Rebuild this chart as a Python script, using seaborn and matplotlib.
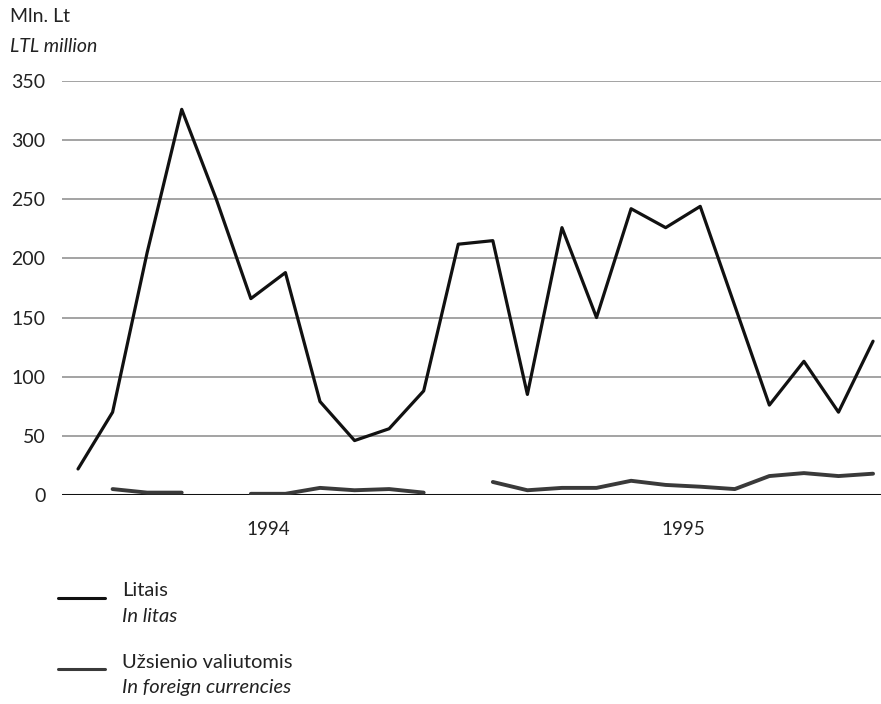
import numpy as np
import pandas as pd
import matplotlib
matplotlib.use("Agg")
import matplotlib.pyplot as plt
import seaborn as sns
from matplotlib.lines import Line2D

months = list(range(24))
years = ["1994", "1995"]
litas = [22, 70, 205, 326, 250, 166, 188, 79, 46, 56, 88, 212,
         215, 85, 226, 150, 242, 226, 244, 160, 76, 113, 70, 130]
foreign = [np.nan, 5, 2, 2, np.nan, 1, 1, 6, 4, 5, 2, np.nan,
           11, 4, 6, 6, 12, 8.5, 7, 5, 16, 18.5, 16, 18]
yticks = [0, 50, 100, 150, 200, 250, 300, 350]

df = pd.DataFrame({"month": months, "litas": litas, "foreign": foreign})
# contiguous segments so that missing months show as gaps
df["seg"] = df["foreign"].isna().cumsum()

sns.set_theme(style="white")
plt.rcParams['font.family'] = ['Lato', 'DejaVu Sans']

fig = plt.figure(figsize=(8.81, 7.04), dpi=100)
ax = fig.add_axes([0.0704, 0.2969, 0.9296, 0.5881])

for y in yticks[1:]:
    ax.axhline(y, color="#8a8a8a", lw=1.1, zorder=0)
ax.axhline(0, color="#111111", lw=2.2, zorder=1)

fd = df.dropna(subset=["foreign"])
for _, g in fd.groupby("seg"):
    sns.lineplot(data=g, x="month", y="foreign", ax=ax, color="#3a3a3a", lw=2.8, zorder=2)
sns.lineplot(data=df, x="month", y="litas", ax=ax, color="#111111", lw=2.3, zorder=3)

ax.set_xlim(-0.463, 23.23)
ax.set_ylim(0, 350)
ax.set_yticks(yticks)
ax.set_yticklabels([str(v) for v in yticks], fontsize=14, color="#222222")
ax.tick_params(axis="y", length=0, pad=12)
ax.set_xticks([5.5, 17.5])
ax.set_xticklabels(years, fontsize=13.5, color="#222222")
ax.tick_params(axis="x", length=0, pad=19)
ax.set_xlabel("")
ax.set_ylabel("")
for s in ax.spines.values():
    s.set_visible(False)
ax.grid(False)

fig.text(10/881, 1-16/704, "Mln. Lt", fontsize=14, color="#222222", va="center", ha="left")
fig.text(10/881, 1-46/704, "LTL million", fontsize=14, color="#222222", va="center", ha="left", style="italic")

# legend
leg = [("Litais", "In litas", 598, 590, 616, "#111111"),
       ("Užsienio valiutomis", "In foreign currencies", 669, 662, 688, "#3a3a3a")]
for t1, t2, ly, y1, y2, c in leg:
    fig.add_artist(Line2D([58/881, 105/881], [1-ly/704, 1-ly/704], color=c, lw=2.2,
                          transform=fig.transFigure))
    fig.text(122/881, 1-y1/704, t1, fontsize=14.5, color="#222222", va="center", ha="left")
    fig.text(122/881, 1-y2/704, t2, fontsize=14.5, color="#222222", va="center", ha="left", style="italic")

fig.savefig("out.png", dpi=100)
